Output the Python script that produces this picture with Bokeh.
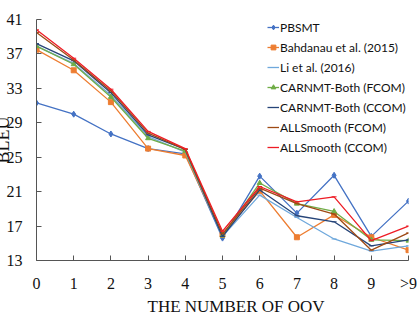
from bokeh.plotting import figure
from bokeh.models import FixedTicker, Legend, LegendItem, Title
from bokeh.embed import file_html
from bokeh.resources import INLINE

# Number of OOV words per sentence (index 10 is the ">9" bucket)
oov = [0, 1, 2, 3, 4, 5, 6, 7, 8, 9, 10]
oov_labels = ["0", "1", "2", "3", "4", "5", "6", "7", "8", "9", ">9"]

# BLEU scores per system
pbsmt = [31.3, 30.0, 27.7, 26.0, 25.4, 15.6, 22.8, 18.5, 22.9, 15.8, 19.9]
bahdanau = [37.5, 35.1, 31.4, 26.0, 25.2, 16.0, 21.1, 15.7, 18.3, 15.7, 14.2]
li2016 = [37.9, 35.9, 32.2, 27.4, 25.6, 15.8, 20.6, 18.0, 15.5, 14.1, 14.7]
carnmt_fcom = [37.9, 35.8, 32.0, 27.2, 25.7, 15.9, 22.0, 19.6, 18.7, 15.4, 15.3]
carnmt_ccom = [38.2, 36.2, 32.5, 27.6, 25.9, 15.8, 21.2, 18.2, 17.5, 14.7, 15.4]
allsmooth_fcom = [39.5, 36.3, 32.7, 27.8, 25.9, 16.1, 21.4, 19.6, 18.4, 14.2, 16.2]
allsmooth_ccom = [39.8, 36.5, 32.9, 28.0, 26.0, 16.4, 21.6, 19.8, 20.4, 15.3, 17.0]

y_ticks = [13, 17, 21, 25, 29, 33, 37, 41]

series = [
    ("PBSMT", pbsmt, "#4472c4", "diamond", 6),
    ("Bahdanau et al. (2015)", bahdanau, "#ed7d31", "square", 5),
    ("Li et al. (2016)", li2016, "#6fa8dc", "dash", 5),
    ("CARNMT-Both (FCOM)", carnmt_fcom, "#70ad47", "triangle", 5),
    ("CARNMT-Both (CCOM)", carnmt_ccom, "#264478", "dash", 5),
    ("ALLSmooth (FCOM)", allsmooth_fcom, "#9e4a14", "dash", 5),
    ("ALLSmooth (CCOM)", allsmooth_ccom, "#ee1c25", "dash", 5),
]

p = figure(width=417, height=316, output_backend="svg", toolbar_location=None,
           x_range=(0, 10), y_range=(13, 41),
           min_border_left=36, min_border_right=9, min_border_top=19, min_border_bottom=56)
p.outline_line_color = None
p.grid.visible = False
p.background_fill_color = "white"

serif = "Liberation Serif"
for ax in (p.xaxis, p.yaxis):
    ax.axis_line_color = "#555555"
    ax.major_tick_line_color = "#555555"
    ax.major_tick_in = 5
    ax.major_tick_out = 0
    ax.minor_tick_line_color = None
    ax.major_label_text_font = serif
    ax.major_label_text_font_size = "16px"
    ax.major_label_text_color = "#111111"

p.xaxis.ticker = FixedTicker(ticks=oov)
p.xaxis.major_label_overrides = {i: s for i, s in zip(oov, oov_labels)}
p.xaxis.major_label_standoff = 14
p.yaxis.ticker = FixedTicker(ticks=y_ticks)
p.yaxis.major_label_standoff = 14

items = []
for name, vals, color, marker, size in series:
    r1 = p.line(oov, vals, line_color=color, line_width=1.3)
    r2 = p.scatter(oov, vals, marker=marker, size=size, color=color, line_color=color)
    items.append(LegendItem(label=name, renderers=[r1, r2]))

legend = Legend(items=items, location=(231, 105),
                label_text_font="Lato", label_text_font_size="12px",
                label_text_color="#111111",
                glyph_width=12, glyph_height=16, label_height=16,
                label_standoff=1, spacing=4, padding=0, margin=0,
                border_line_color=None, background_fill_alpha=0)
p.add_layout(legend)

# Axis titles
p.add_layout(Title(text="THE NUMBER OF OOV", align="left", offset=111,
                   vertical_align="bottom",
                   text_font=serif, text_font_size="17px", text_font_style="normal",
                   text_color="#111111", standoff=1), "below")
p.add_layout(Title(text="BLEU", align="center",
                   text_font=serif, text_font_size="18px", text_font_style="normal",
                   text_color="#111111", standoff=-19), "left")

open("out.html", "w").write(file_html(p, INLINE))
